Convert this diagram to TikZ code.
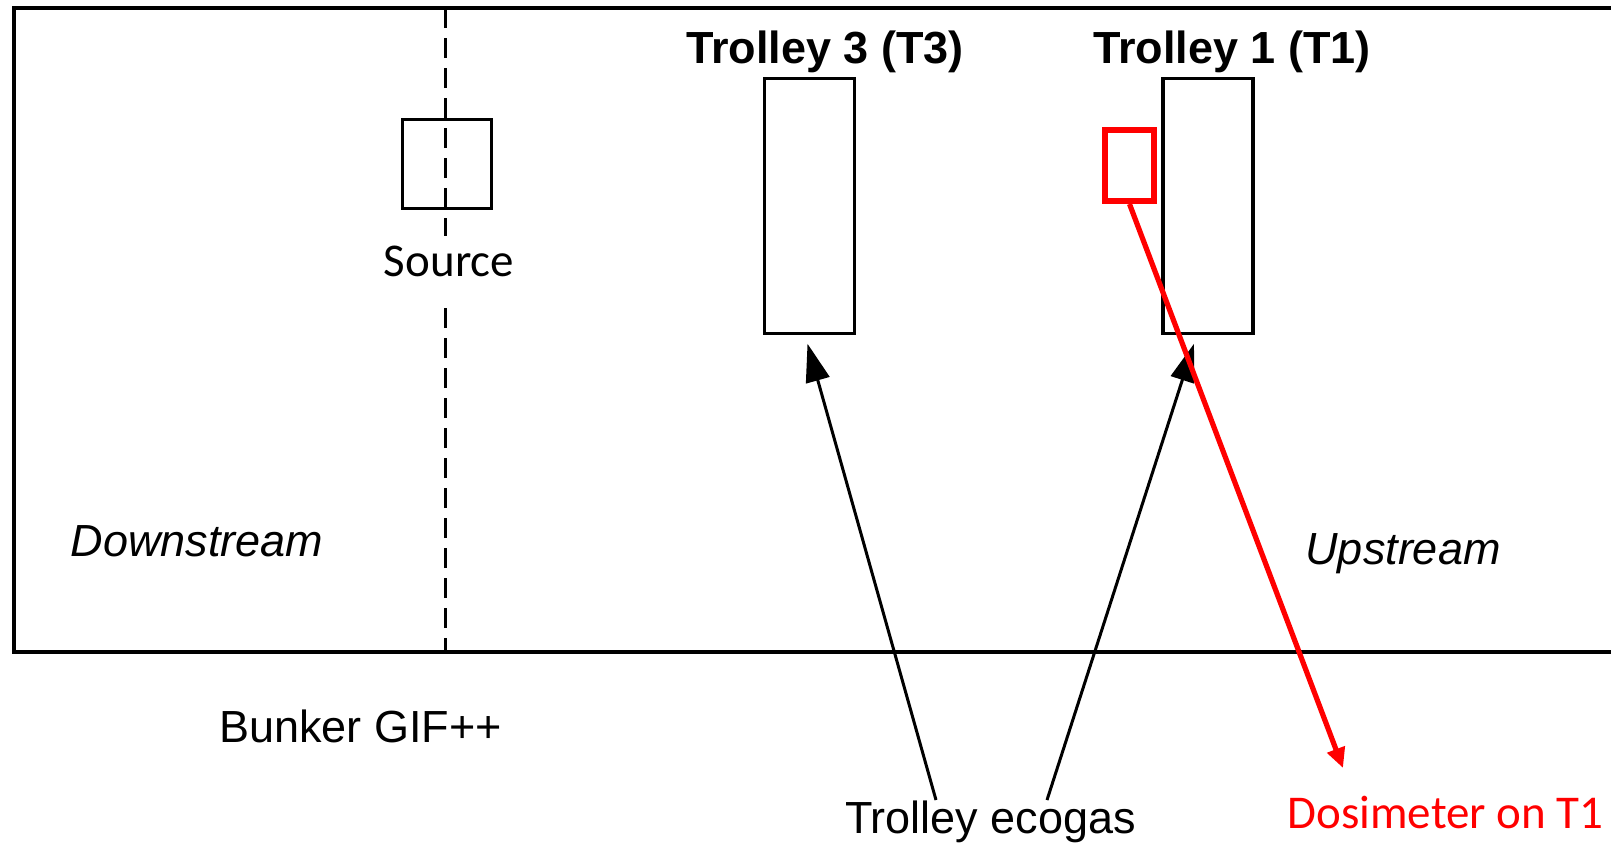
\documentclass[tikz,border=0pt]{standalone}
\usepackage{fontspec}
\setmainfont{Liberation Sans}
\newfontfamily\califont{Carlito}
\usetikzlibrary{arrows.meta,calc}
\definecolor{dosired}{RGB}{255,0,0}

\begin{document}
\begin{tikzpicture}[x=0.5pt,y=-0.5pt,
  box/.style={draw,line width=1.7pt,inner sep=0pt},
  lbl/.style={anchor=base,font=\fontsize{22.5}{27}\selectfont},
  callbl/.style={anchor=base,font=\califont\fontsize{23.5}{28}\selectfont},
  ptr/.style={line width=1.5pt,-{Triangle[length=19pt,width=12pt]}}]
\useasboundingbox (0,0) rectangle (1611,843);
% bunker, open on the right
\draw[line width=1.9pt] (1611,8)--(14,8)--(14,652)--(1611,652);
\draw[line width=1.5pt,dash pattern=on 10pt off 5pt] (445,8)--(445,652);
% source and trolleys
\node[box,minimum width=44.75pt,minimum height=44.5pt] (src) at (447,164) {};
\node[callbl,fill=white,inner xsep=4pt,inner ysep=5pt,text depth=6pt] (srclbl) at (449,276) {Source};
\node[box,minimum width=45pt,minimum height=127.5pt] (t3) at (809.5,206) {};
\node[box,minimum width=45pt,minimum height=127.5pt] (t1) at (1208,206) {};
\node[lbl,font=\bfseries\fontsize{22.5}{27}\selectfont] (t3lbl) at (825,63) {Trolley 3 (T3)};
\node[lbl,font=\bfseries\fontsize{22.5}{27}\selectfont] (t1lbl) at (1232,63) {Trolley 1 (T1)};
\node[draw=dosired,line width=3pt,inner sep=0pt,minimum width=24.5pt,minimum height=35.5pt] (dosi) at (1129.5,165.5) {};
% texts
\node[lbl,font=\itshape\fontsize{22.5}{27}\selectfont] (down) at (197,556) {Downstream};
\node[lbl,font=\itshape\fontsize{22.5}{27}\selectfont] (up) at (1403,564) {Upstream};
\node[lbl] (bunker) at (360.5,742) {Bunker GIF++};
\node[lbl] (eco) at (990.5,833) {Trolley ecogas};
\node[callbl,text=dosired] (dosilbl) at (1445.5,828) {Dosimeter on T1};
% arrows
\coordinate (ecoL) at (936,800);
\coordinate (ecoR) at (1047,800);
\coordinate (dosiend) at (1343,768);
\draw[ptr] (ecoL)--($(t3.south)+(-2,8.5)$);
\draw[ptr] (ecoR)--($(t1.south)+(-14,8.5)$);
\draw[dosired,line width=2.6pt,-{Triangle[length=10pt,width=9pt]}] (dosi.south)--(dosiend);
\end{tikzpicture}
\end{document}
